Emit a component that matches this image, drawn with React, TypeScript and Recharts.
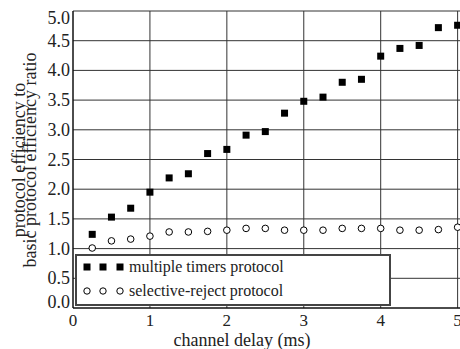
import React from 'react';
import { ScatterChart, Scatter, XAxis, YAxis, CartesianGrid } from 'recharts';

// channel delay (ms)
const delays = [0.25, 0.5, 0.75, 1.0, 1.25, 1.5, 1.75, 2.0, 2.25, 2.5, 2.75, 3.0, 3.25, 3.5, 3.75, 4.0, 4.25, 4.5, 4.75, 5.0];
const multipleTimers = [1.24, 1.53, 1.68, 1.95, 2.19, 2.26, 2.6, 2.67, 2.91, 2.97, 3.28, 3.48, 3.55, 3.8, 3.85, 4.24, 4.37, 4.42, 4.72, 4.76];
const selectiveReject = [1.01, 1.13, 1.16, 1.21, 1.28, 1.28, 1.29, 1.31, 1.34, 1.34, 1.31, 1.31, 1.31, 1.34, 1.34, 1.34, 1.31, 1.31, 1.32, 1.36];
const xTicks = [0, 1, 2, 3, 4, 5];
const yTicks = [0, 0.5, 1, 1.5, 2, 2.5, 3, 3.5, 4, 4.5, 5];
const seriesNames = ['multiple timers protocol', 'selective-reject protocol'];

const FONT = 'Liberation Serif';

const timersData = delays.map((x, i) => ({ x, y: multipleTimers[i] }));
const rejectData = delays.map((x, i) => ({ x, y: selectiveReject[i] }));

const Square = (props: any) => {
    const { cx, cy } = props;
    return <rect x={cx - 3.5} y={cy - 3.5} width={7} height={7} fill="#000" />;
};

const Ring = (props: any) => {
    const { cx, cy } = props;
    return <circle cx={cx} cy={cy} r={3.3} fill="#fff" stroke="#000" strokeWidth={1} />;
};

const XTick = (props: any) => {
    const { x, y, payload } = props;
    return (
        <text x={x} y={y + 18} textAnchor="middle" fill="#222" fontFamily={FONT} fontSize={17}>
            {payload.value}
        </text>
    );
};

const YTick = (props: any) => {
    const { x, y, payload } = props;
    // keep the end labels inside the frame, like the original
    let shift = 6;
    if (payload.value === 5) shift = 13;
    if (payload.value === 0) shift = 0;
    return (
        <text x={x - 3} y={y + shift} textAnchor="end" fill="#222" fontFamily={FONT} fontSize={18}>
            {Number(payload.value).toFixed(1)}
        </text>
    );
};

export default function App() {
    return (
        <div style={{ position: 'absolute', left: 0, top: 0, width: 460, height: 349, overflow: 'hidden', background: '#fff' }}>
            <ScatterChart width={480} height={349} margin={{ top: 11, right: 7, left: 0, bottom: 0 }}>
                <CartesianGrid stroke="#333" strokeWidth={1} />
                <XAxis
                    type="number"
                    dataKey="x"
                    domain={[0, 5.2]}
                    ticks={xTicks}
                    height={41}
                    tickSize={0}
                    tickMargin={0}
                    tickLine={false}
                    axisLine={{ stroke: '#000' }}
                    tick={<XTick />}
                />
                <YAxis
                    type="number"
                    dataKey="y"
                    domain={[0, 5]}
                    ticks={yTicks}
                    width={73}
                    tickSize={0}
                    tickMargin={0}
                    tickLine={false}
                    axisLine={{ stroke: '#000' }}
                    tick={<YTick />}
                />
                <Scatter name={seriesNames[0]} data={timersData} shape={<Square />} isAnimationActive={false} />
                <Scatter name={seriesNames[1]} data={rejectData} shape={<Ring />} isAnimationActive={false} />
            </ScatterChart>

            {/* axis titles */}
            <svg width={460} height={349} style={{ position: 'absolute', left: 0, top: 0, pointerEvents: 'none' }}>
                <g fontFamily={FONT} fontSize={18} fill="#222" textAnchor="middle">
                    <text transform="translate(25,160) rotate(-90)">protocol efficiency to</text>
                    <text transform="translate(36,160) rotate(-90)">basic protocol efficiency ratio</text>
                    <text x={242} y={346}>channel delay (ms)</text>
                </g>

                {/* legend box */}
                <rect x={76} y={255} width={314} height={50} fill="#fff" stroke="#444" strokeWidth={2} />
                <g fill="#000">
                    <rect x={83.5} y={263.5} width={7} height={7} />
                    <rect x={99.5} y={263.5} width={7} height={7} />
                    <rect x={116.5} y={263.5} width={7} height={7} />
                </g>
                <g fill="#fff" stroke="#000">
                    <circle cx={87} cy={291} r={3.2} />
                    <circle cx={103} cy={291} r={3.2} />
                    <circle cx={120} cy={291} r={3.2} />
                </g>
                <g fontFamily={FONT} fontSize={16} fill="#222">
                    <text x={129} y={272}>{seriesNames[0]}</text>
                    <text x={129} y={296}>{seriesNames[1]}</text>
                </g>
            </svg>
        </div>
    );
}
